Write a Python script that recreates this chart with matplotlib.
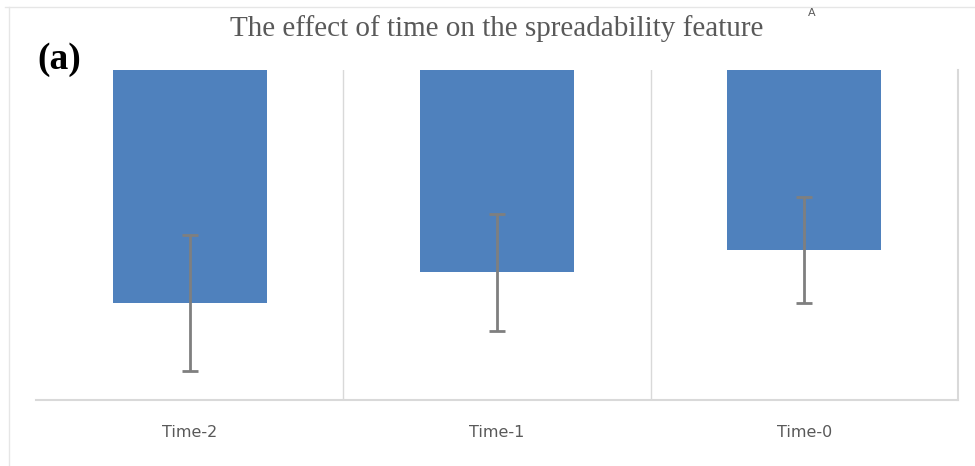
import matplotlib.pyplot as plt
import numpy as np
from matplotlib.lines import Line2D

# data (arbitrary units, axis inverted: 0 at top)
categories = ["Time-2", "Time-1", "Time-0"]
values = [2.33, 2.02, 1.80]
errors = [0.68, 0.585, 0.53]
y_max = 3.30

fig = plt.figure(figsize=(9.75, 4.66), dpi=100)
ax = fig.add_axes([36 / 975, 1 - 400 / 466, (958 - 36) / 975, (400 - 70) / 466])

x = np.arange(len(categories))
ax.bar(x, values, width=0.5, color="#4F81BD", zorder=2)
ax.errorbar(x, values, yerr=errors, fmt="none", ecolor="#7f7f7f",
            elinewidth=2, capsize=6, capthick=2, zorder=3)

ax.set_xlim(-0.5, len(categories) - 0.5)
ax.set_ylim(y_max, 0)

# vertical separators between categories
for xv in np.arange(0.5, len(categories), 1.0):
    ax.axvline(xv, color="#d9d9d9", linewidth=1, zorder=1)

for s in ["top", "left"]:
    ax.spines[s].set_visible(False)
ax.spines["right"].set_color("#d9d9d9")
ax.spines["right"].set_linewidth(1.5)
ax.spines["bottom"].set_color("#d9d9d9")
ax.spines["bottom"].set_linewidth(1.5)

ax.set_yticks([])
ax.set_xticks(x)
ax.set_xticklabels(categories, color="#595959", fontsize=11.5, family="DejaVu Sans")
ax.tick_params(axis="x", length=0, pad=18)

fig.text(497 / 975, 1 - 29 / 466, "The effect of time on the spreadability feature",
         ha="center", va="center", family="Liberation Serif", fontsize=21, color="#595959")
fig.text(812 / 975, 1 - 13 / 466, "A", ha="center", va="center",
         family="DejaVu Sans", fontsize=8, color="#595959")
fig.text(37 / 975, 1 - 60 / 466, "(a)", ha="left", va="center",
         family="Liberation Serif", fontsize=27, fontweight="bold", color="black")

# light frame lines at top and left of the image
fig.add_artist(Line2D([5 / 975, 1], [1 - 7 / 466, 1 - 7 / 466], color="#e6e6e6",
                      linewidth=1, transform=fig.transFigure))
fig.add_artist(Line2D([9 / 975, 9 / 975], [0, 1 - 7 / 466], color="#e6e6e6",
                      linewidth=1, transform=fig.transFigure))

fig.savefig("out.png", dpi=100)
